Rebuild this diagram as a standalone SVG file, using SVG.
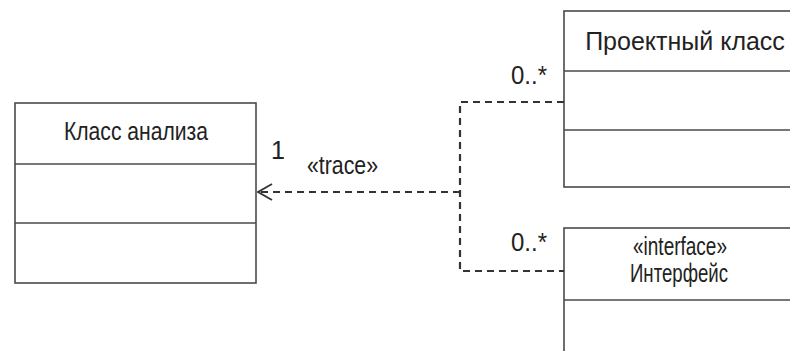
<svg xmlns="http://www.w3.org/2000/svg" width="790" height="351" viewBox="0 0 790 351">
  <style>
    .box { fill: #ffffff; stroke: #4a4a4a; stroke-width: 1.6; }
    .div { stroke: #4a4a4a; stroke-width: 1.6; fill: none; }
    .dep { stroke: #333333; stroke-width: 2.2; fill: none; stroke-dasharray: 7 5; }
    .lbl { font-family: "Liberation Sans", Arial, sans-serif; font-size: 25px; fill: #222222; }
    .mid { text-anchor: middle; }
  </style>
  <defs>
    <marker id="open-arrow" viewBox="0 0 16 18" refX="15" refY="9" markerWidth="16" markerHeight="18" markerUnits="userSpaceOnUse" orient="auto">
      <path d="M1 1 L15 9 L1 17" fill="none" stroke="#333333" stroke-width="1.8"/>
    </marker>
  </defs>

  <rect width="790" height="351" fill="#ffffff"/>

  <!-- analysis class -->
  <g id="analysis-class">
    <rect class="box" x="15" y="103" width="241" height="180"/>
    <line class="div" x1="15" y1="164" x2="256" y2="164"/>
    <line class="div" x1="15" y1="223" x2="256" y2="223"/>
    <text class="lbl mid" x="136" y="140" textLength="144" lengthAdjust="spacingAndGlyphs">Класс анализа</text>
  </g>

  <!-- design class (runs past the right edge) -->
  <g id="design-class">
    <rect class="box" x="564" y="11" width="226.8" height="176"/>
    <line class="div" x1="564" y1="71" x2="790" y2="71"/>
    <line class="div" x1="564" y1="130" x2="790" y2="130"/>
    <text class="lbl mid" x="685" y="50" font-size="21">Проектный класс</text>
  </g>

  <!-- interface (runs past the right and bottom edges) -->
  <g id="interface">
    <rect class="box" x="564" y="228" width="226.8" height="140"/>
    <line class="div" x1="564" y1="300" x2="790" y2="300"/>
    <text class="lbl mid" x="680" y="255" textLength="94" lengthAdjust="spacingAndGlyphs">«interface»</text>
    <text class="lbl mid" x="679" y="282" textLength="98" lengthAdjust="spacingAndGlyphs">Интерфейс</text>
  </g>

  <!-- trace dependencies -->
  <g id="connectors">
    <path class="dep" d="M564 102 H460 V271 H564"/>
    <path class="dep" d="M460 192 H258" marker-end="url(#open-arrow)"/>
    <text class="lbl" x="271" y="159">1</text>
    <text class="lbl" x="307" y="174" textLength="71" lengthAdjust="spacingAndGlyphs">«trace»</text>
    <text class="lbl" x="511" y="84" font-size="24" textLength="36" lengthAdjust="spacingAndGlyphs">0..*</text>
    <text class="lbl" x="511" y="251" font-size="24" textLength="36" lengthAdjust="spacingAndGlyphs">0..*</text>
  </g>
</svg>
